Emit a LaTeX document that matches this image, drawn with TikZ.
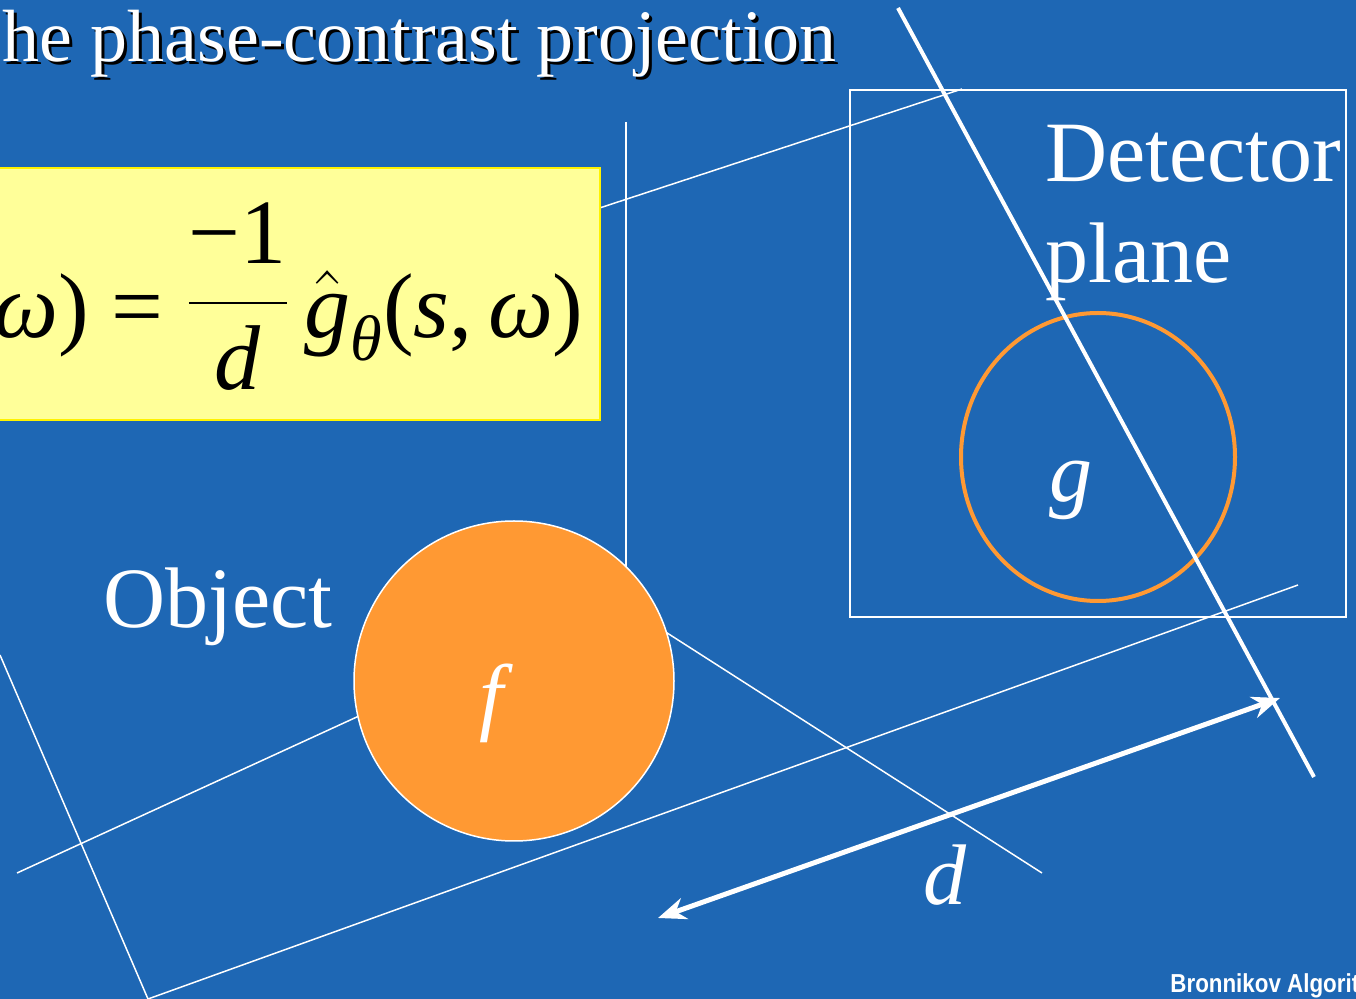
\RequirePackage{fix-cm}
\documentclass[tikz,border=0pt]{standalone}
\usepackage{amsmath}
\usepackage{fontspec}
\setmainfont{Liberation Serif}
\newfontfamily\footfont[FakeStretch=0.86]{Liberation Sans}
\usetikzlibrary{arrows.meta}
\definecolor{slideblue}{RGB}{30,103,180}
\definecolor{objorange}{RGB}{255,153,51}
\definecolor{boxyellow}{RGB}{255,255,153}
\tikzset{
  ray/.style={white,line width=0.75pt},
  bigtext/.style={white,inner sep=0pt,font=\fontsize{43}{50}\selectfont},
}

\begin{document}
\begin{tikzpicture}[x=0.5pt,y=-0.5pt]
\useasboundingbox (0,0) rectangle (1356,999);
\clip (0,0) rectangle (1356,999);
\fill[slideblue] (0,0) rectangle (1356,999);
% thin rays
\draw[ray] (0,655) -- (148,999);
\draw[ray] (148,999) -- (1298,585);
\draw[ray] (17,873) -- (420,688);
\draw[ray] (600,590) -- (1042,873);
\draw[ray] (626,122) -- (626,600);
\draw[ray] (560,221) -- (962,89);
\draw[ray] (850,90) rectangle (1346,617);
% formula box
\draw[fill=boxyellow,draw=yellow,line width=0.6pt] (-10,168) rectangle (600,420);
\node[anchor=base east,inner sep=0pt,font=\fontsize{46}{50}\selectfont] (formula) at (584,338)
  {\textit{ω}) = \raisebox{6pt}{$\displaystyle\frac{\text{−1}}{\textit{d}}$}\,$\hat{\textit{g}}_{\textit{θ}}$(\textit{s},\,\textit{ω})};
% object
\draw[fill=objorange,draw=white,line width=0.75pt] (514,681) circle (160);
\node[bigtext] (flabel) at (496,703) {\textit{f}};
\node[bigtext,anchor=base west] (objtext) at (103,628) {Object};
% detector
\draw[objorange,line width=2pt] (1098,457) ellipse (137 and 144);
\node[bigtext] (glabel) at (1071,490) {\textit{g}};
\draw[white,line width=2pt] (898,8) -- (1314,777);
\node[bigtext,anchor=base west] (dettext) at (1045,182) {Detector};
\node[bigtext,anchor=base west] (planetext) at (1045,283) {plane};
% distance
\coordinate (dnear) at (658,918);
\coordinate (dfar) at (1280,698);
\draw[white,line width=2.5pt,{Stealth[length=14pt,width=11pt]}-{Stealth[length=14pt,width=11pt]}] (dnear) -- (dfar);
\node[bigtext] (dlabel) at (945,875) {\textit{d}};
% title
\node[anchor=base west,inner sep=0pt,font=\fontsize{37}{40}\selectfont] (titleshadow) at (5,65) {he phase-contrast projection};
\node[anchor=base west,inner sep=0pt,white,font=\fontsize{37}{40}\selectfont] (title) at (2,62) {he phase-contrast projection};
\node[anchor=base west,inner sep=0pt,white,font=\footfont\bfseries\fontsize{13}{15}\selectfont] (foot) at (1170,993) {Bronnikov Algorit};
\end{tikzpicture}
\end{document}
